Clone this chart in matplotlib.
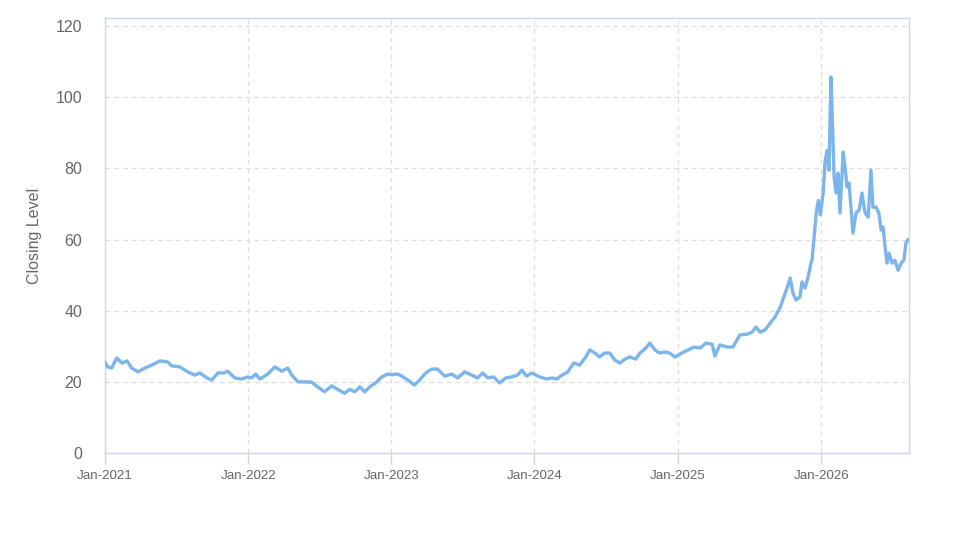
import matplotlib
matplotlib.use("Agg")
import matplotlib.pyplot as plt
import matplotlib.dates as mdates
import pandas as pd

dates = [
    "2021-01-01", "2021-01-08", "2021-01-18", "2021-01-31", "2021-02-13", "2021-02-26",
    "2021-03-10", "2021-03-26", "2021-04-13", "2021-04-30", "2021-05-21", "2021-06-10",
    "2021-06-20", "2021-07-11", "2021-07-31", "2021-08-18", "2021-08-31", "2021-09-18",
    "2021-09-30", "2021-10-16", "2021-10-31", "2021-11-10", "2021-11-28", "2021-12-16",
    "2021-12-31",
    "2022-01-10", "2022-01-20", "2022-01-31", "2022-02-20", "2022-03-10", "2022-03-28",
    "2022-04-12", "2022-04-22", "2022-05-08", "2022-05-25", "2022-06-12", "2022-06-27",
    "2022-07-15", "2022-08-02", "2022-08-17", "2022-09-04", "2022-09-17", "2022-09-30",
    "2022-10-13", "2022-10-25", "2022-11-07", "2022-11-22", "2022-12-08", "2022-12-23",
    "2022-12-31",
    "2023-01-17", "2023-01-28", "2023-02-12", "2023-03-01", "2023-03-14", "2023-03-30",
    "2023-04-14", "2023-04-29", "2023-05-17", "2023-06-04", "2023-06-19", "2023-07-07",
    "2023-07-25", "2023-08-09", "2023-08-22", "2023-09-04", "2023-09-19", "2023-10-04",
    "2023-10-20", "2023-11-04", "2023-11-19", "2023-11-30", "2023-12-12", "2023-12-25",
    "2024-01-14", "2024-02-01", "2024-02-14", "2024-02-27", "2024-03-11", "2024-03-26",
    "2024-04-10", "2024-04-25", "2024-05-11", "2024-05-21", "2024-06-03", "2024-06-15",
    "2024-06-28", "2024-07-11", "2024-07-24", "2024-08-06", "2024-08-19", "2024-08-31",
    "2024-09-15", "2024-09-26", "2024-10-11", "2024-10-21", "2024-11-03", "2024-11-15",
    "2024-11-28", "2024-12-11", "2024-12-24",
    "2025-01-02", "2025-01-11", "2025-01-27", "2025-02-11", "2025-02-26", "2025-03-13",
    "2025-03-29", "2025-04-05", "2025-04-18", "2025-05-06", "2025-05-21", "2025-06-08",
    "2025-06-26", "2025-07-09", "2025-07-19", "2025-07-29", "2025-08-11", "2025-08-24",
    "2025-09-05", "2025-09-18", "2025-09-28", "2025-10-06", "2025-10-14", "2025-10-21",
    "2025-10-29", "2025-11-08", "2025-11-13", "2025-11-21", "2025-11-29", "2025-12-06",
    "2025-12-09", "2025-12-15", "2025-12-20", "2025-12-25", "2025-12-30",
    "2026-01-06", "2026-01-11", "2026-01-16", "2026-01-21", "2026-01-24", "2026-01-26",
    "2026-01-29", "2026-02-03", "2026-02-08", "2026-02-13", "2026-02-18", "2026-02-23",
    "2026-02-26", "2026-03-03", "2026-03-08", "2026-03-13", "2026-03-18", "2026-03-23",
    "2026-03-31", "2026-04-08", "2026-04-15", "2026-04-23", "2026-05-01", "2026-05-08",
    "2026-05-13", "2026-05-21", "2026-05-28", "2026-06-03", "2026-06-08", "2026-06-13",
    "2026-06-18", "2026-06-23", "2026-07-01", "2026-07-08", "2026-07-16", "2026-07-24",
    "2026-07-31", "2026-08-05", "2026-08-10",
]

closing = [
    25.5, 24.2, 23.9, 26.7, 25.3, 25.9,
    23.9, 22.8, 23.9, 24.7, 25.9, 25.6,
    24.5, 24.2, 22.8, 21.9, 22.5, 21.1,
    20.5, 22.5, 22.5, 23.0, 21.1, 20.8,
    21.4,
    21.1, 22.2, 20.8, 22.2, 24.2, 23.0,
    23.9, 21.9, 20.0, 20.0, 19.9, 18.6,
    17.2, 18.9, 17.9, 16.8, 17.9, 17.2,
    18.6, 17.2, 18.6, 19.7, 21.4, 22.2,
    22.0,
    22.2, 21.6, 20.5, 19.1, 20.5, 22.5,
    23.6, 23.6, 21.6, 22.2, 21.1, 22.8,
    21.9, 21.1, 22.5, 21.1, 21.4, 19.7,
    21.1, 21.4, 21.9, 23.3, 21.6, 22.5,
    21.4, 20.8, 21.1, 20.8, 21.9, 22.8,
    25.3, 24.7, 27.0, 29.0, 28.1, 27.0,
    28.1, 28.1, 26.1, 25.3, 26.4, 27.0,
    26.4, 28.1, 29.5, 30.9, 29.0, 28.1,
    28.4, 28.1, 27.0,
    27.5, 28.1, 29.0, 29.8, 29.5, 30.9,
    30.6, 27.3, 30.4, 29.8, 29.8, 33.2,
    33.4, 34.0, 35.4, 34.0, 34.6, 36.5,
    38.2, 40.8, 43.9, 46.4, 49.2, 45.0,
    43.0, 43.9, 48.1, 46.4, 49.5, 53.4,
    54.5, 61.8, 68.0, 71.0, 67.0,
    73.0, 82.0, 85.0, 79.5, 96.0, 105.7,
    96.0, 77.6, 73.1, 78.7, 67.5, 77.6,
    84.6, 80.4, 74.8, 75.9, 69.1, 61.8,
    67.5, 68.3, 73.1, 67.5, 66.3, 79.5,
    69.1, 69.1, 67.5, 62.7, 63.5, 57.9,
    53.4, 56.2, 53.4, 54.2, 51.4, 53.4,
    54.2, 59.0, 59.9,
]

x_ticks = ["2021-01-01", "2022-01-01", "2023-01-01", "2024-01-01", "2025-01-01", "2026-01-01"]
y_ticks = [0, 20, 40, 60, 80, 100, 120]
y_label = "Closing Level"

plt.rcParams['font.family'] = ['Liberation Sans', 'DejaVu Sans']

fig = plt.figure(figsize=(9.74, 5.47), dpi=100)
ax = fig.add_axes([105 / 974, 1 - 453 / 547, (909 - 105) / 974, (453 - 18) / 547])

dt = pd.to_datetime(dates)
ax.plot(dt, closing, color="#7cb5ec", linewidth=2.4, solid_joinstyle="round", zorder=3)

ax.set_xlim(pd.Timestamp("2021-01-01"), pd.Timestamp("2026-08-13"))
ax.set_ylim(0, 122.3)

ax.set_xticks(pd.to_datetime(x_ticks))
ax.xaxis.set_major_formatter(mdates.DateFormatter("%b-%Y"))
ax.set_yticks(y_ticks)

ax.grid(True, color="#dedede", linestyle=(0, (4, 3)), linewidth=0.9, zorder=0)

for s in ax.spines.values():
    s.set_color("#ccd6eb")
    s.set_linewidth(1.0)

ax.tick_params(axis="x", colors="#ccd6eb", length=8, width=1, labelcolor="#666666",
               labelsize=9.6, pad=4)
ax.tick_params(axis="y", length=0, labelcolor="#666666", labelsize=11.5, pad=16.5)
for lbl in ax.get_yticklabels():
    lbl.set_horizontalalignment("right")

ax.set_ylabel(y_label, color="#666666", fontsize=11.5, labelpad=10)

fig.savefig("out.png", dpi=100)
